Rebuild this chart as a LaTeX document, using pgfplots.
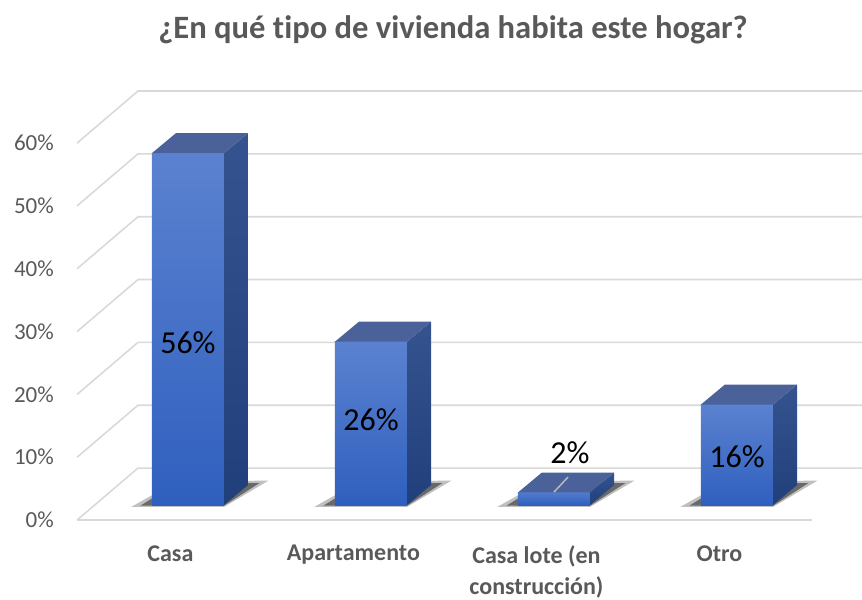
\documentclass[border=0pt]{standalone}
\usepackage{fontspec}
\setmainfont{Carlito}[Ligatures=NoCommon]
\usepackage{pgfplots}
\pgfplotsset{compat=1.18}
\definecolor{gridc}{HTML}{D9D9D9}
\definecolor{txtc}{HTML}{595959}
\definecolor{fronttop}{HTML}{5B82D0}
\definecolor{frontbot}{HTML}{2F5FBE}
\definecolor{sidetop}{HTML}{35538F}
\definecolor{sidebot}{HTML}{213F7B}
\definecolor{topc}{HTML}{4A6199}
\begin{document}
\begin{tikzpicture}
\begin{axis}[
 x=183pt, y=6.283pt,
 xmin=-0.606, xmax=3.683, ymin=-2.39, ymax=72,
 enlargelimits=false, clip=false,
 axis line style={draw=none}, tick style={draw=none},
 major tick length=0pt,
 ytick={-2.39,7.61,17.61,27.61,37.61,47.61,57.61},
 yticklabels={0\%,10\%,20\%,30\%,40\%,50\%,60\%},
 xtick={-0.096,0.904,1.904,2.904},
 xticklabels={Casa,Apartamento,{Casa lote (en\\construcción)},Otro},
 yticklabel style={font=\fontsize{23}{28}\selectfont, text=txtc, anchor=east, inner sep=0pt, xshift=-23pt},
 xticklabel style={font=\fontsize{24}{31}\selectfont\bfseries, text=txtc, anchor=north, align=center, inner sep=0pt, yshift=-25pt},
]
% gridlines (front slant + back wall)
\addplot[gridc, line width=1.6pt] coordinates {(-0.606,-2.39) (-0.273,5.89) (3.683,5.89)};
\addplot[gridc, line width=1.6pt] coordinates {(-0.606,7.61) (-0.273,15.89) (3.683,15.89)};
\addplot[gridc, line width=1.6pt] coordinates {(-0.606,17.61) (-0.273,25.89) (3.683,25.89)};
\addplot[gridc, line width=1.6pt] coordinates {(-0.606,27.61) (-0.273,35.89) (3.683,35.89)};
\addplot[gridc, line width=1.6pt] coordinates {(-0.606,37.61) (-0.273,45.89) (3.683,45.89)};
\addplot[gridc, line width=1.6pt] coordinates {(-0.606,47.61) (-0.273,55.89) (3.683,55.89)};
\addplot[gridc, line width=1.6pt] coordinates {(-0.606,57.61) (-0.273,65.89) (3.683,65.89)};
\addplot[gridc, line width=1.6pt] coordinates {(-0.606,-2.39) (3.410,-2.39)};

% shadows
\addplot[draw=none, fill=black, fill opacity=0.25] coordinates {(-0.31,-0.3) (0.197,-0.3) (0.44,3.9) (-0.066,3.7)} --cycle;
\addplot[draw=none, fill=black, fill opacity=0.45] coordinates {(-0.26,-0.1) (0.197,-0.1) (0.39,3.5) (-0.066,3.4)} --cycle;
\addplot[draw=none, fill=black, fill opacity=0.25] coordinates {(0.69,-0.3) (1.197,-0.3) (1.44,3.9) (0.934,3.7)} --cycle;
\addplot[draw=none, fill=black, fill opacity=0.45] coordinates {(0.74,-0.1) (1.197,-0.1) (1.39,3.5) (0.934,3.4)} --cycle;
\addplot[draw=none, fill=black, fill opacity=0.25] coordinates {(1.69,-0.3) (2.197,-0.3) (2.44,3.9) (1.934,3.7)} --cycle;
\addplot[draw=none, fill=black, fill opacity=0.45] coordinates {(1.74,-0.1) (2.197,-0.1) (2.39,3.5) (1.934,3.4)} --cycle;
\addplot[draw=none, fill=black, fill opacity=0.25] coordinates {(2.69,-0.3) (3.197,-0.3) (3.44,3.9) (2.934,3.7)} --cycle;
\addplot[draw=none, fill=black, fill opacity=0.45] coordinates {(2.74,-0.1) (3.197,-0.1) (3.39,3.5) (2.934,3.4)} --cycle;

% bars: Casa 56, Apartamento 26, Casa lote 2, Otro 16
% front faces
\addplot[ybar, bar width=0.394, bar shift=0pt, draw=none, top color=fronttop, bottom color=frontbot] coordinates {(0,56)};
\addplot[ybar, bar width=0.394, bar shift=0pt, draw=none, top color=fronttop, bottom color=frontbot] coordinates {(1,26)};
\addplot[ybar, bar width=0.394, bar shift=0pt, draw=none, top color=fronttop!80!frontbot, bottom color=frontbot] coordinates {(2,2)};
\addplot[ybar, bar width=0.394, bar shift=0pt, draw=none, top color=fronttop, bottom color=frontbot] coordinates {(3,16)};
% side faces
\addplot[draw=none, top color=sidetop, bottom color=sidebot] coordinates {(0.197,0) (0.328,3.18) (0.328,59.18) (0.197,56)} --cycle;
\addplot[draw=none, top color=sidetop, bottom color=sidebot] coordinates {(1.197,0) (1.328,3.18) (1.328,29.18) (1.197,26)} --cycle;
\addplot[draw=none, top color=sidetop, bottom color=sidebot] coordinates {(2.197,0) (2.328,3.18) (2.328,5.18) (2.197,2)} --cycle;
\addplot[draw=none, top color=sidetop, bottom color=sidebot] coordinates {(3.197,0) (3.328,3.18) (3.328,19.18) (3.197,16)} --cycle;
% top faces
\addplot[draw=none, fill=topc] coordinates {(-0.197,56) (0.197,56) (0.328,59.18) (-0.066,59.18)} --cycle;
\addplot[draw=none, fill=topc] coordinates {(0.803,26) (1.197,26) (1.328,29.18) (0.934,29.18)} --cycle;
\addplot[draw=none, fill=topc] coordinates {(1.803,2) (2.197,2) (2.328,5.18) (1.934,5.18)} --cycle;
\addplot[draw=none, fill=topc] coordinates {(2.803,16) (3.197,16) (3.328,19.18) (2.934,19.18)} --cycle;
% leader line for 2%
\addplot[color=gray!55, line width=1.5pt] coordinates {(2.0,2.07) (2.077,4.46)};

% value labels
\node[font=\fontsize{32}{38}\selectfont] at (axis cs:0,25.8) {56\%};
\node[font=\fontsize{32}{38}\selectfont] at (axis cs:1,13.6) {26\%};
\node[font=\fontsize{32}{38}\selectfont] at (axis cs:2.087,8.28) {2\%};
\node[font=\fontsize{32}{38}\selectfont] at (axis cs:3,7.64) {16\%};

% title
\node[font=\fontsize{32.6}{38}\selectfont\bfseries, text=txtc, anchor=base] at (axis cs:1.448,74.33) {¿En qué tipo de vivienda habita este hogar?};

\coordinate (bl) at (axis cs:-1.027,-14.96);
\coordinate (tr) at (axis cs:3.683,80.38);
\end{axis}
\pgfresetboundingbox
\useasboundingbox (bl) rectangle (tr);
\end{tikzpicture}
\end{document}
